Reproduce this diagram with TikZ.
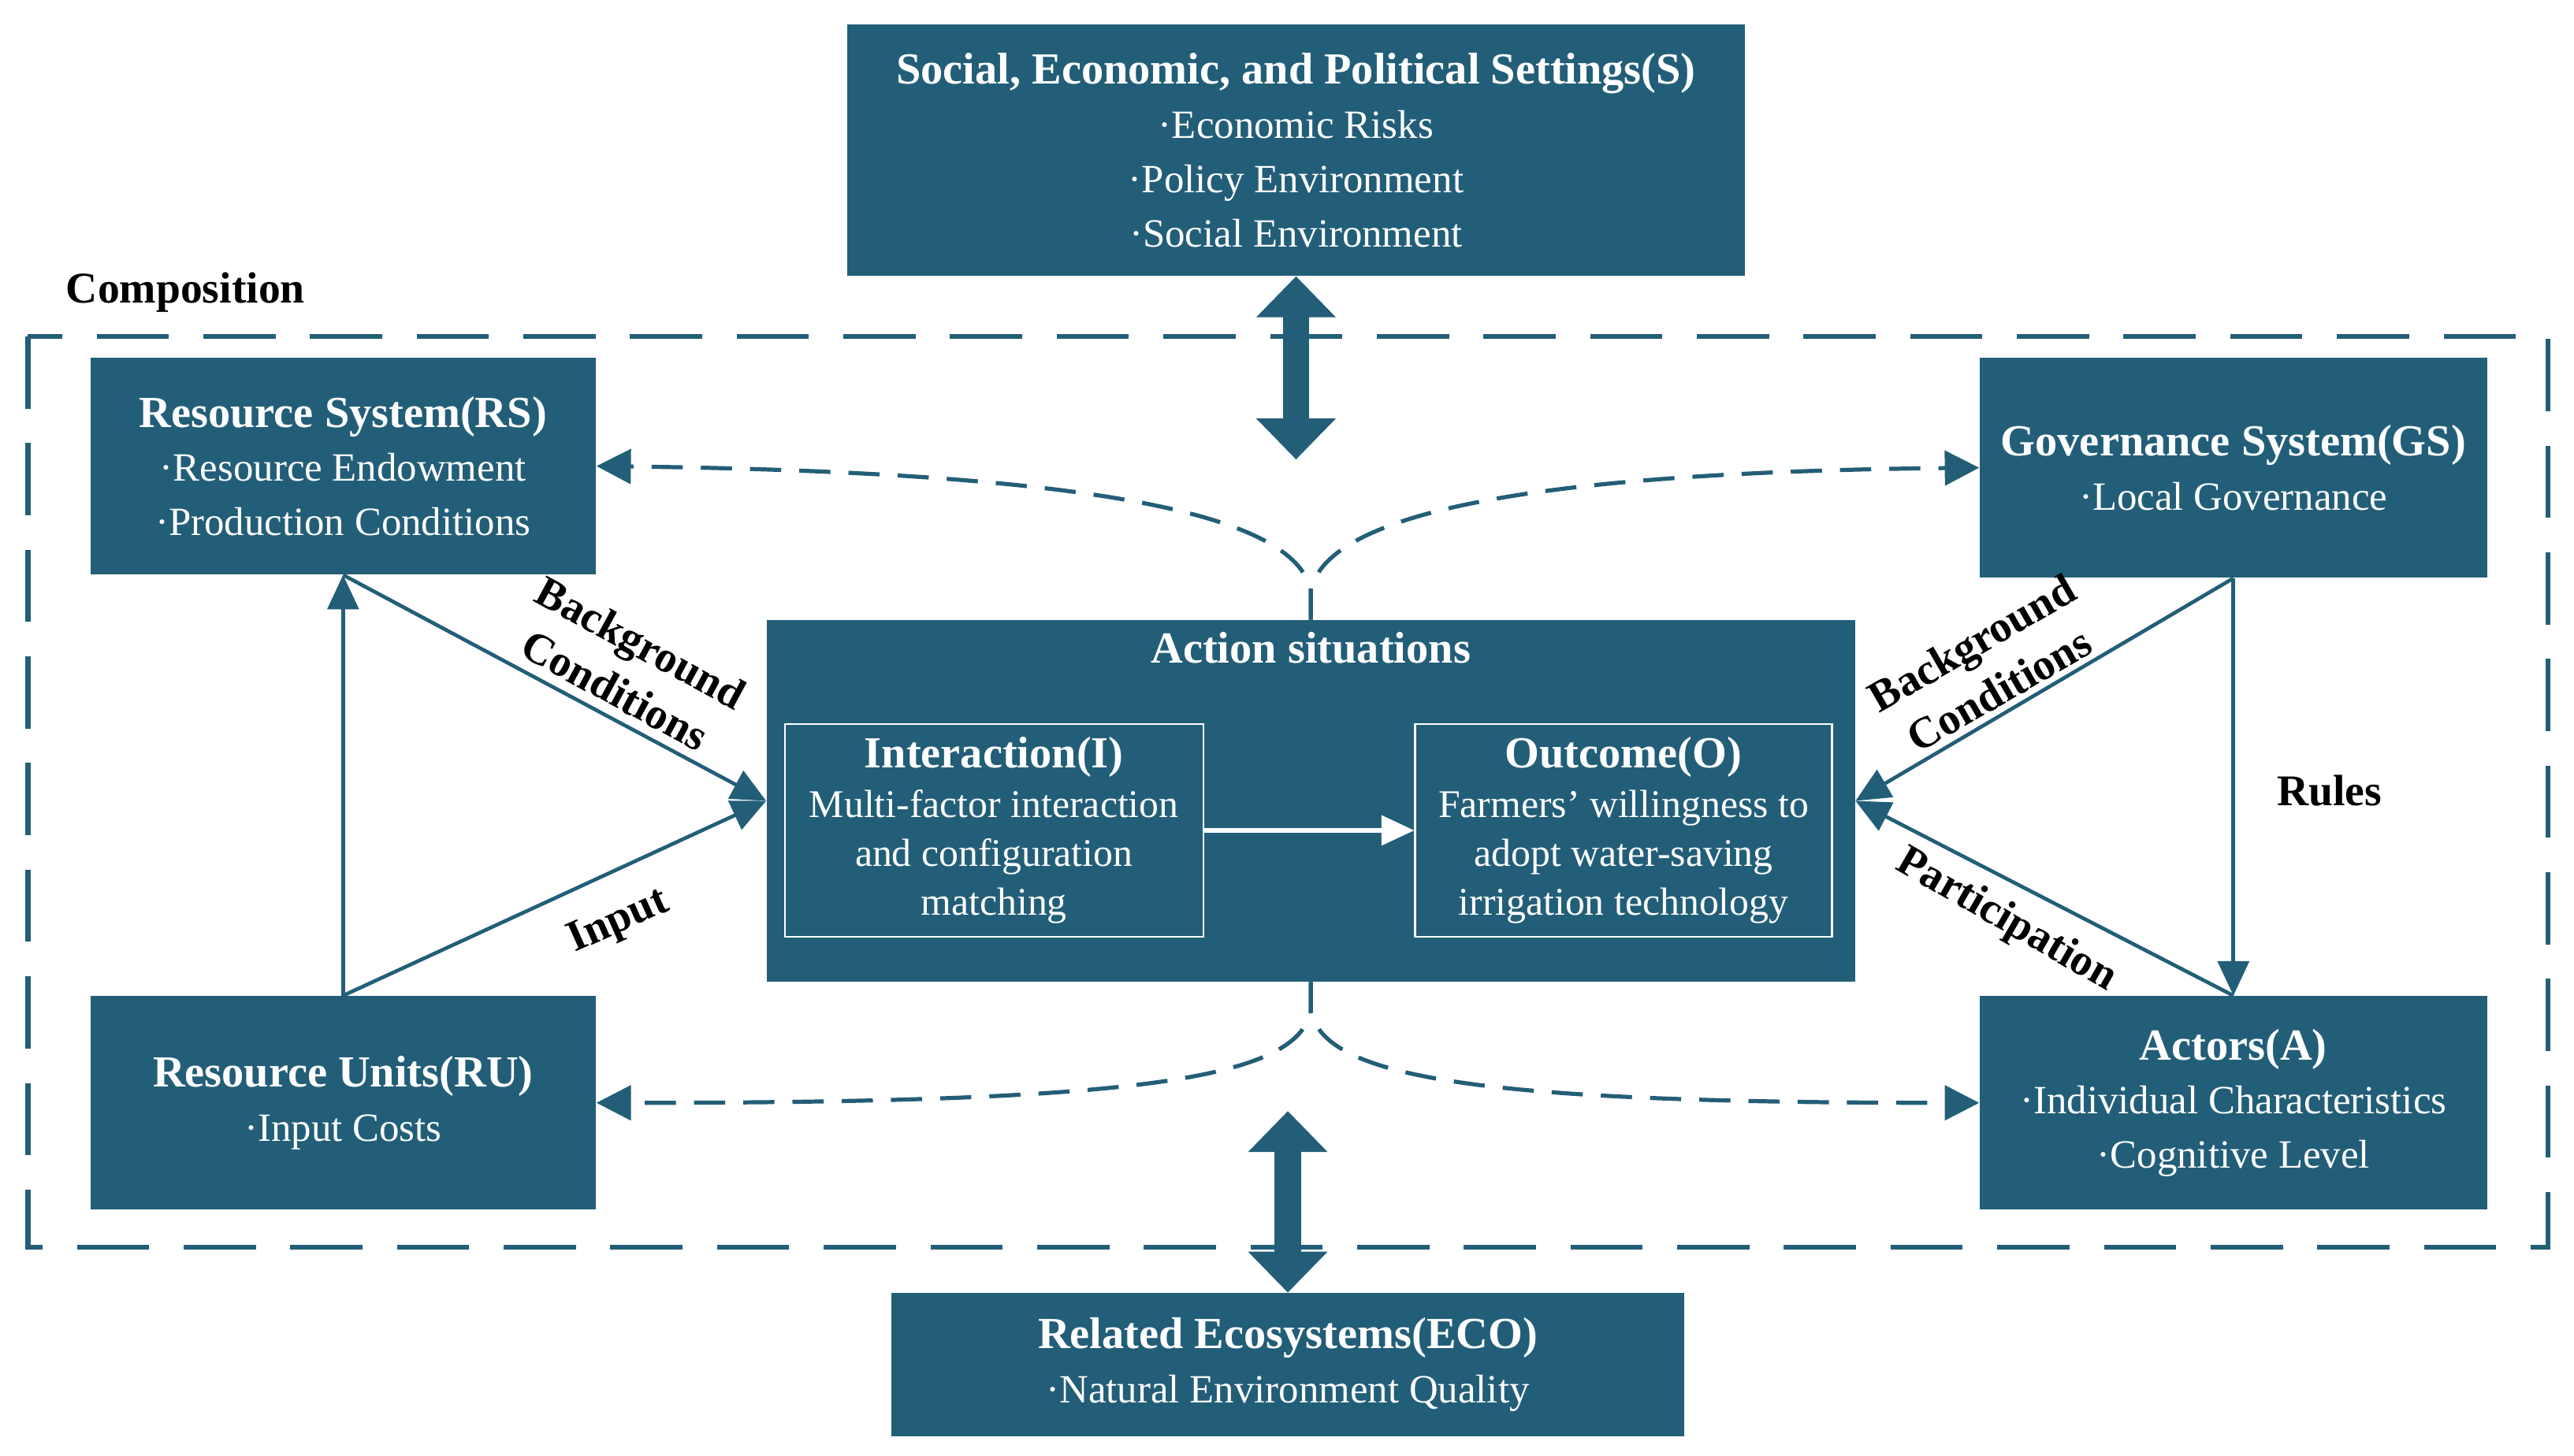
\documentclass[tikz,border=0pt]{standalone}
\usepackage{fontspec}
\setmainfont{Liberation Serif}
\usetikzlibrary{arrows.meta}
\definecolor{boxc}{RGB}{35,94,120}
\newcommand{\mytitle}{\fontsize{15.4}{18.8}\selectfont\bfseries}
\newcommand{\mybody}{\fontsize{13.9}{18.8}\selectfont\mdseries}
\newcommand{\myintitle}{\fontsize{15.4}{17}\selectfont\bfseries}
\newcommand{\myinbody}{\fontsize{13.6}{17}\selectfont\mdseries}
\newcommand{\mylabel}{\fontsize{15.2}{18.8}\selectfont\bfseries}
\begin{document}
\begin{tikzpicture}[x=0.02cm,y=-0.02cm,
  box/.style={fill=boxc,text=white,align=center,inner sep=0pt,font=\mybody},
  inbox/.style={draw=white,line width=0.6pt,text=white,align=center,inner sep=0pt,font=\myinbody},
  conn/.style={draw=boxc,line width=0.045cm,-{Triangle[length=0.42cm,width=0.38cm]}},
  dconn/.style={draw=boxc,line width=0.05cm,dash pattern=on 0.38cm off 0.22cm,-{Triangle[length=0.42cm,width=0.42cm]}},
  dbl/.style={draw=boxc,line width=0.32cm,{Triangle[length=0.5cm,width=0.94cm]}-{Triangle[length=0.5cm,width=0.94cm]}},
  lbl/.style={font=\mylabel,align=center,inner sep=0pt,text=black},
]
\useasboundingbox (0,0) rectangle (1568,887);

% composition frame
\draw[boxc,line width=0.06cm,dash pattern=on 0.88cm off 0.42cm] (17,205) rectangle (1552,760);
\node[lbl] (comp) at (113,178) {Composition};

% boxes
\node[box,minimum width=10.94cm,minimum height=3.06cm] (S) at (789.5,91.5)
  {\mytitle Social, Economic, and Political Settings(S)\\ \mybody ·Economic Risks\\ ·Policy Environment\\ ·Social Environment};
\node[box,minimum width=6.16cm,minimum height=2.64cm] (RS) at (209,284)
  {\mytitle Resource System(RS)\\ \mybody ·Resource Endowment\\ ·Production Conditions};
\node[box,minimum width=6.18cm,minimum height=2.68cm] (GS) at (1360.5,285)
  {\mytitle Governance System(GS)\\ \mybody ·Local Governance};
\node[box,minimum width=6.16cm,minimum height=2.6cm] (RU) at (209,672)
  {\mytitle Resource Units(RU)\\ \mybody ·Input Costs};
\node[box,minimum width=6.18cm,minimum height=2.6cm] (A) at (1360.5,672)
  {\mytitle Actors(A)\\ \mybody ·Individual Characteristics\\ ·Cognitive Level};
\node[box,minimum width=9.66cm,minimum height=1.74cm] (ECO) at (784.5,831.5)
  {\mytitle Related Ecosystems(ECO)\\ \mybody ·Natural Environment Quality};

\node[box,minimum width=13.26cm,minimum height=4.4cm] (AS) at (798.5,488) {};
\node[text=white,font=\mytitle,inner sep=0pt] (AStitle) at (798.5,395) {Action situations};
\node[inbox,minimum width=5.1cm,minimum height=2.6cm] (I) at (605.5,506)
  {\myintitle Interaction(I)\\ \myinbody Multi-factor interaction\\ and configuration\\ matching};
\node[inbox,minimum width=5.08cm,minimum height=2.6cm] (O) at (989,506)
  {\myintitle Outcome(O)\\ \myinbody Farmers’ willingness to\\ adopt water-saving\\ irrigation technology};
\draw[white,line width=0.05cm,-{Triangle[length=0.4cm,width=0.36cm]}] (I.east) -- (O.west);

% double arrows
\coordinate (sEnd) at (789.5,280);
\coordinate (eTop) at (784.5,677);
\draw[dbl] (S.south) -- (sEnd);
\draw[dbl] (eTop) -- (ECO.north);

% solid connectors
\draw[conn] (RU.north) -- (RS.south);
\draw[conn] (RS.south) -- (AS.west);
\draw[conn] (RU.north) -- (AS.west);
\draw[conn] (GS.south) -- (AS.east);
\draw[conn] (A.north) -- (AS.east);
\draw[conn] (GS.south) -- (A.north);

% dashed curves
\draw[dconn] (AS.north) -- (798.5,360) .. controls (790,318) and (690,288) .. (RS.east);
\draw[dconn] (AS.north) -- (798.5,360) .. controls (807,318) and (907,288) .. (GS.west);
\draw[dconn] (AS.south) -- (798.5,616) .. controls (790,658) and (690,672) .. (RU.east);
\draw[dconn] (AS.south) -- (798.5,616) .. controls (807,658) and (907,672) .. (A.west);

% labels
\node[lbl,rotate=-28.5] (bgl) at (382.5,406) {Background\\Conditions};
\node[lbl,rotate=24] (inp) at (377,562) {Input};
\node[lbl,rotate=30] (bgr) at (1209.5,406) {Background\\Conditions};
\node[lbl,rotate=-30] (part) at (1222,561) {Participation};
\node[lbl] (rules) at (1419,482) {Rules};
\end{tikzpicture}
\end{document}
